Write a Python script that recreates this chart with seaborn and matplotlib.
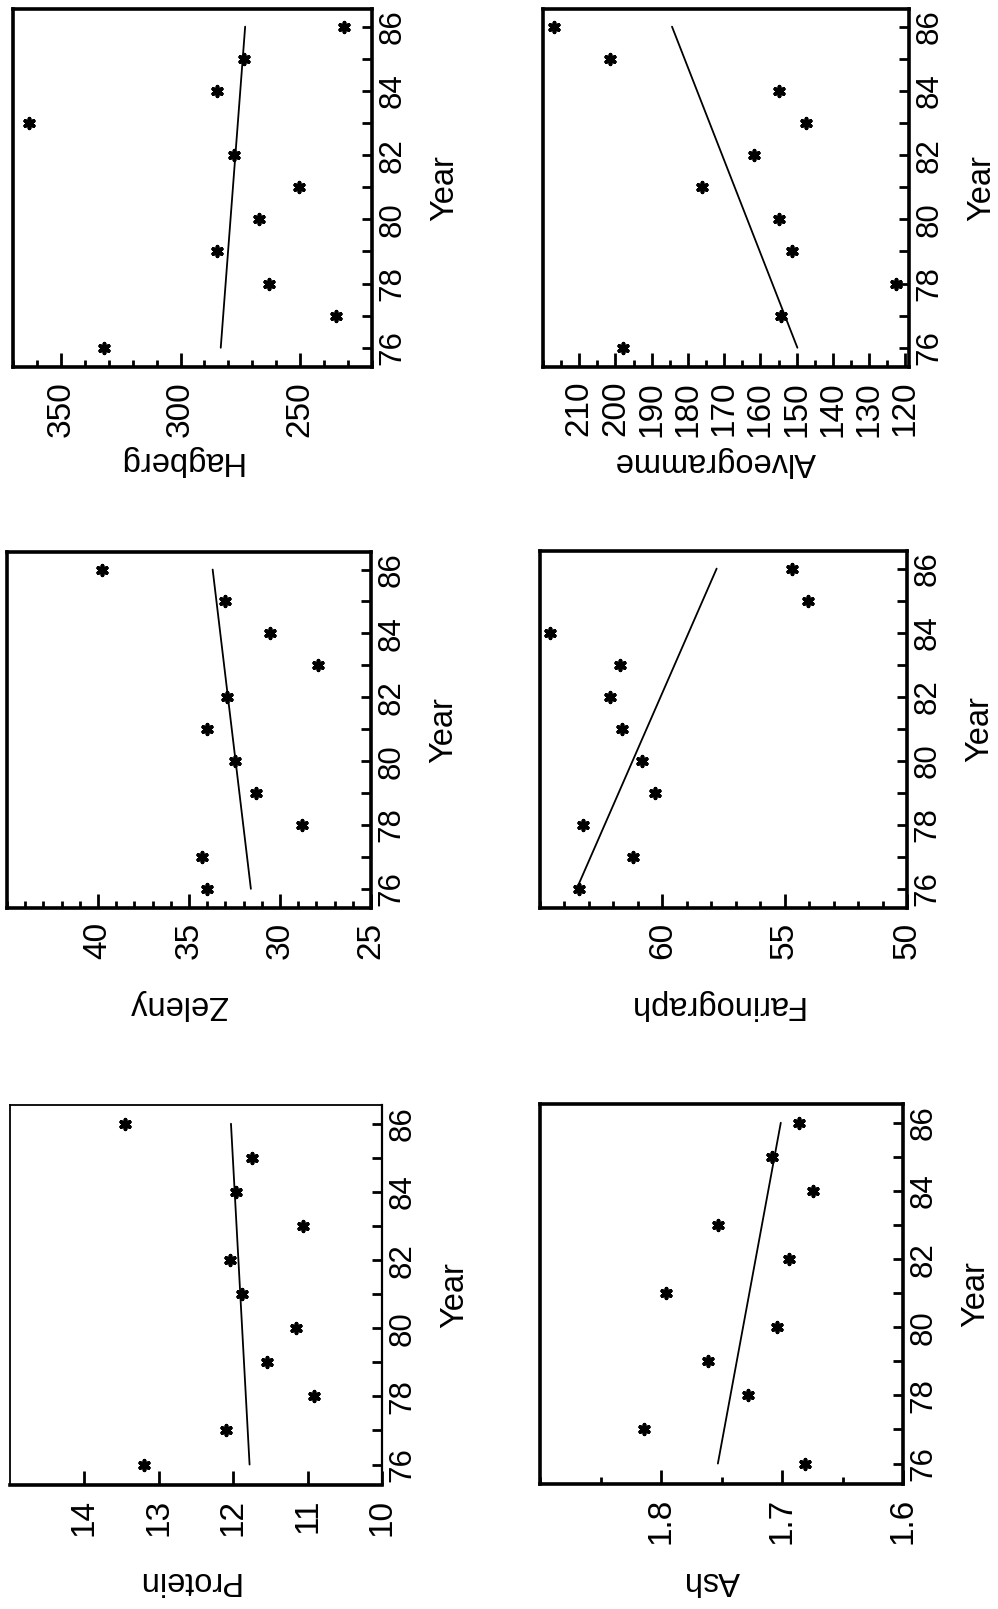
import numpy as np
import pandas as pd
import matplotlib
matplotlib.use("Agg")
import matplotlib.pyplot as plt
import seaborn as sns

# ---------------- data ----------------
years = [76, 77, 78, 79, 80, 81, 82, 83, 84, 85, 86]
fit_years = [76, 86]

protein = [13.2, 12.1, 10.92, 11.54, 11.15, 11.88, 12.04, 11.06, 11.96, 11.75, 13.46]
protein_fit = [11.78, 12.03]

zeleny = [34.0, 34.3, 28.8, 31.3, 32.5, 34.0, 32.9, 27.9, 30.55, 33.0, 39.8]
zeleny_fit = [31.6, 33.7]

hagberg = [331.9, 235.1, 263.0, 284.6, 267.2, 250.7, 277.6, 363.2, 284.6, 273.4, 231.7]
hagberg_fit = [283.2, 273.0]

ash = [1.681, 1.814, 1.728, 1.761, 1.704, 1.796, 1.694, 1.753, 1.674, 1.708, 1.686]
ash_fit = [1.753, 1.701]

farinograph = [63.4, 61.2, 63.26, 60.3, 60.84, 61.66, 62.12, 61.73, 64.6, 54.03, 54.69]
farinograph_fit = [63.5, 57.78]

alveogramme = [197.8, 154.2, 122.7, 151.2, 154.8, 176.1, 161.8, 147.3, 154.9, 201.4, 216.9]
alveogramme_fit = [149.8, 184.4]

year_tick_labels = ["76", "78", "80", "82", "84", "86"]

# value-axis ticks per panel
protein_ticks = [10, 11, 12, 13, 14]
zeleny_ticks = [25, 30, 35, 40]
hagberg_ticks = [250, 300, 350]
ash_ticks = [1.6, 1.7, 1.8]
ash_tick_labels = ["1.6", "1.7", "1.8"]
farinograph_ticks = [50, 55, 60]
alveogramme_ticks = [120, 130, 140, 150, 160, 170, 180, 190, 200, 210]

# ---------------- style ----------------
sns.set_theme(style="white")
plt.rcParams["font.family"] = ["Liberation Sans", "DejaVu Sans"]

W, H = 998, 1609
fig = plt.figure(figsize=(W / 100, H / 100), dpi=100)
fig.patch.set_facecolor("white")


def panel(box_px, values, fit, label, xlim, major, major_labels, minor_step,
          label_x=0.47, label_y=-0.26, thin_frame=False):
    left, top, right, bottom = box_px
    w, h = right - left, bottom - top
    ax = fig.add_axes([left / W, 1 - bottom / H, w / W, h / H])
    df = pd.DataFrame({"value": values, "year": years})
    fdf = pd.DataFrame({"value": fit, "year": fit_years})
    sns.scatterplot(data=df, x="value", y="year", ax=ax, marker=(6, 2, 0),
                    s=48, color="black", linewidth=2.7, zorder=3)
    sns.lineplot(data=fdf, x="value", y="year", ax=ax, sort=False,
                 estimator=None, color="black", linewidth=1.3)
    ax.set_xlim(*xlim)
    ax.set_ylim(75.4, 86.55)

    # value axis (horizontal, increasing to the left)
    ax.set_xticks(major, labels=major_labels)
    if minor_step:
        lo, hi = min(xlim), max(xlim)
        mn = np.arange(np.ceil(lo / minor_step) * minor_step, hi + 1e-9, minor_step)
        ax.set_xticks(mn, minor=True)
    ax.tick_params(axis="x", which="major", direction="in", length=10, width=2,
                   labelsize=24, pad=10, labelrotation=90, bottom=True, top=False,
                   color="black", labelcolor="black")
    ax.tick_params(axis="x", which="minor", direction="in", length=5, width=2,
                   bottom=True, top=False, color="black")

    # year axis (vertical, on the right)
    ax.yaxis.tick_right()
    ax.set_yticks([76, 78, 80, 82, 84, 86], labels=year_tick_labels)
    ax.set_yticks([77, 79, 81, 83, 85], minor=True)
    ax.tick_params(axis="y", which="both", direction="in", length=7, width=2,
                   right=True, left=False, color="black")
    ax.tick_params(axis="y", which="major", labelsize=22.5, pad=4,
                   labelrotation=90, labelcolor="black")
    for t in ax.get_yticklabels():
        t.set_verticalalignment("center")
        t.set_horizontalalignment("left")

    ax.yaxis.set_label_position("right")
    ax.set_ylabel("Year", fontsize=23.5, rotation=90, va="center", ha="center",
                  color="black")
    ax.yaxis.set_label_coords(1 + 73 / w, 0.5)
    ax.set_xlabel(label, fontsize=23.5, rotation=180, va="center", ha="center",
                  color="black")
    ax.xaxis.set_label_coords(label_x, label_y)

    for name, sp in ax.spines.items():
        sp.set_visible(True)
        sp.set_color("black")
        sp.set_linewidth(2.6)
    if thin_frame:
        ax.spines["top"].set_linewidth(1.3)
        ax.spines["left"].set_linewidth(1.3)
        ax.spines["right"].set_linewidth(1.6)
    ax.grid(False)
    return ax


panel((13, 9, 372, 367), hagberg, hagberg_fit, "Hagberg", (370, 220),
      hagberg_ticks, [str(v) for v in hagberg_ticks], 10,
      label_x=0.465, label_y=-0.26)
panel((543, 9, 909, 367), alveogramme, alveogramme_fit, "Alveogramme", (220, 119),
      alveogramme_ticks, [str(v) for v in alveogramme_ticks], 5,
      label_x=0.47, label_y=-0.265)
panel((7, 552, 371, 908), zeleny, zeleny_fit, "Zeleny", (45, 25),
      zeleny_ticks, [str(v) for v in zeleny_ticks], 1,
      label_x=0.47, label_y=-0.27)
panel((540, 551, 907, 908), farinograph, farinograph_fit, "Farinograph", (65, 50),
      farinograph_ticks, [str(v) for v in farinograph_ticks], 1,
      label_x=0.477, label_y=-0.27)
panel((10, 1105, 382, 1485), protein, protein_fit, "Protein", (15, 10),
      protein_ticks, [str(v) for v in protein_ticks], None,
      label_x=0.478, label_y=-0.25, thin_frame=True)
panel((540, 1104, 903, 1484), ash, ash_fit, "Ash", (1.9, 1.6),
      ash_ticks, ash_tick_labels, 0.05,
      label_x=0.474, label_y=-0.255)

fig.savefig("out.png", dpi=100, facecolor="white")
